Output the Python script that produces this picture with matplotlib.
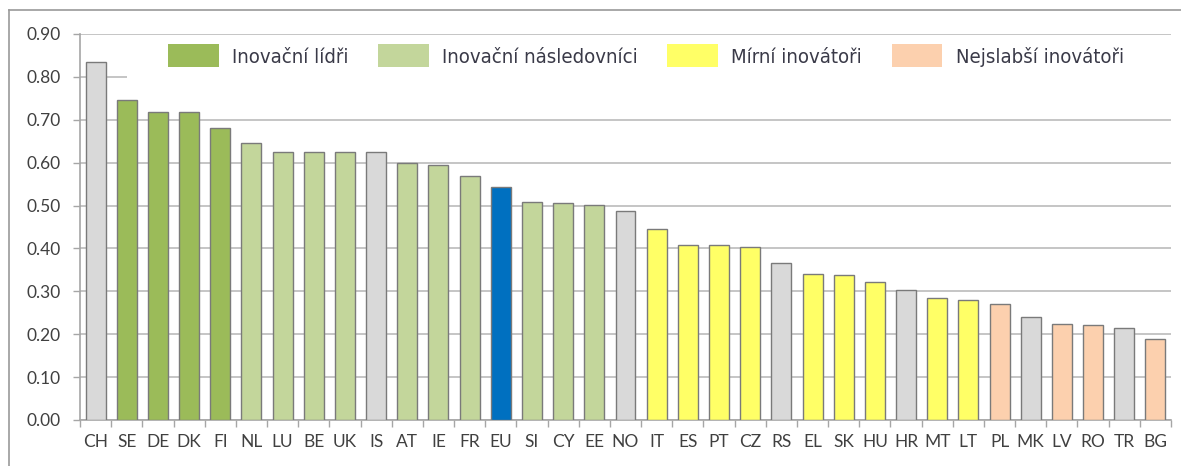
import numpy as np
import matplotlib.pyplot as plt
from matplotlib.patches import Patch, Rectangle
from matplotlib.lines import Line2D
from matplotlib.font_manager import FontProperties

countries = ['CH', 'SE', 'DE', 'DK', 'FI', 'NL', 'LU', 'BE', 'UK', 'IS', 'AT', 'IE',
             'FR', 'EU', 'SI', 'CY', 'EE', 'NO', 'IT', 'ES', 'PT', 'CZ', 'RS', 'EL',
             'SK', 'HU', 'HR', 'MT', 'LT', 'PL', 'MK', 'LV', 'RO', 'TR', 'BG']
scores = [0.834, 0.747, 0.718, 0.718, 0.681, 0.646, 0.625, 0.624, 0.624, 0.624, 0.600, 0.595,
          0.568, 0.544, 0.508, 0.506, 0.501, 0.488, 0.446, 0.407, 0.407, 0.403, 0.367, 0.340,
          0.338, 0.322, 0.303, 0.284, 0.280, 0.270, 0.239, 0.224, 0.222, 0.215, 0.190]
# group of each country: 0 leaders, 1 followers, 2 moderate, 3 modest, 'x' non-EU, 'eu' average
groups = ['x', 0, 0, 0, 0, 1, 1, 1, 1, 'x', 1, 1,
          1, 'eu', 1, 1, 1, 'x', 2, 2, 2, 2, 'x', 2,
          2, 2, 'x', 2, 2, 3, 'x', 3, 3, 'x', 3]
group_names = ['Inovační lídři', 'Inovační následovníci', 'Mírní inovátoři', 'Nejslabší inovátoři']

palette = {0: '#9BBB59', 1: '#C3D69B', 2: '#FFFF66', 3: '#FCD0AE',
           'x': '#D9D9D9', 'eu': '#0070C0'}

fig = plt.figure(figsize=(11.81, 4.66), dpi=100)
ax = fig.add_axes([80 / 1181, 1 - 420 / 466, 1091 / 1181, 386 / 466])

x = np.arange(len(countries))
ax.bar(x, scores, width=0.64, color=[palette[g] for g in groups],
       edgecolor='#7a7a7a', linewidth=1.0, zorder=3)

ax.set_xlim(-0.5, len(countries) - 0.5)
ax.set_ylim(0, 0.9)
yt = np.arange(0, 0.91, 0.1)
ax.set_yticks(yt)
ax.set_yticklabels([f'{v:.2f}' for v in yt])
ax.set_xticks(x)
ax.set_xticklabels(countries)
ax.set_xticks(np.arange(-0.5, len(countries)), minor=True)

for lab in ax.get_xticklabels() + ax.get_yticklabels():
    lab.set_family(['Lato', 'DejaVu Sans'])
    lab.set_fontsize(12.5)
    lab.set_color('#404040')

ax.tick_params(axis='y', length=5, width=1, color='#a6a6a6', pad=9)
ax.tick_params(axis='x', which='major', length=0, pad=10)
ax.tick_params(axis='x', which='minor', length=5, width=1, color='#a6a6a6')

ax.grid(axis='y', color='#c0c0c0', linewidth=1.3, zorder=0)
ax.set_axisbelow(True)
for side in ['top', 'right']:
    ax.spines[side].set_visible(False)
ax.spines['left'].set_color('#a6a6a6')
ax.spines['bottom'].set_color('#a6a6a6')
ax.spines['left'].set_linewidth(1.2)
ax.spines['bottom'].set_linewidth(1.2)

# white backing behind the legend row
ax.add_patch(Rectangle((47 / 1091, (420 - 98) / 386), 1 - 47 / 1091, 58 / 386,
                       transform=ax.transAxes, facecolor='white', edgecolor='none', zorder=1))

leg_font = FontProperties(family='DejaVu Sans', stretch='condensed', size=14.6)
handles = [Patch(facecolor=palette[i], edgecolor='none') for i in range(4)]
leg = ax.legend(handles, group_names, ncol=4, loc='upper left',
                bbox_to_anchor=(74 / 1091, 1 + 4 / 386), frameon=False, prop=leg_font,
                handlelength=2.5, handleheight=1.38, handletextpad=0.66,
                columnspacing=1.45, borderpad=0.2)
for t in leg.get_texts():
    t.set_color('#3a3a48')

# outer chart frame
fig.add_artist(Line2D([9 / 1181, 9 / 1181], [0, 1 - 10 / 466], transform=fig.transFigure,
                      color='#9a9a9a', linewidth=1.2))
fig.add_artist(Line2D([9 / 1181, 1], [1 - 10 / 466, 1 - 10 / 466], transform=fig.transFigure,
                      color='#9a9a9a', linewidth=1.2))

fig.savefig('out.png', dpi=100)
